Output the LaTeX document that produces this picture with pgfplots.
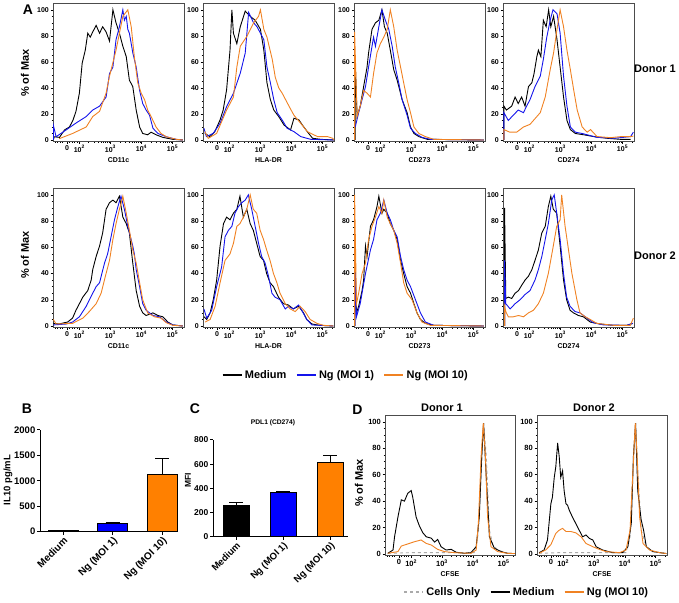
\documentclass[border=0pt]{standalone}
\usepackage{fontspec}
\setmainfont{Liberation Sans}
\usepackage{pgfplots}
\pgfplotsset{compat=1.18}
\definecolor{cblue}{RGB}{20,20,235}
\definecolor{corange}{RGB}{240,130,35}
\definecolor{bblue}{RGB}{0,0,255}
\definecolor{borange}{RGB}{255,128,0}
\definecolor{cgray}{RGB}{170,170,170}
\newcommand{\fs}[1]{\fontsize{#1pt}{#1pt}\selectfont\bfseries}
\pgfplotsset{
  flow/.style={
    scale only axis, width=131pt, height=138pt, anchor=south west,
    xmin=1.15, xmax=5.37, ymin=-1, ymax=105,
    xtick={1.6,2,3,4,5},
    xticklabels={0,10\textsuperscript{2},10\textsuperscript{3},10\textsuperscript{4},10\textsuperscript{5}},
    minor xtick={1.22,1.30,1.38,1.46,1.68,1.76,1.84,1.92,2.301,2.477,2.602,2.699,2.778,2.845,2.903,2.954,3.301,3.477,3.602,3.699,3.778,3.845,3.903,3.954,4.301,4.477,4.602,4.699,4.778,4.845,4.903,4.954,5.301},
    ytick={0,20,40,60,80,100}, minor y tick num=3,
    tick pos=left, tick align=outside,
    major tick length=2.5pt, minor tick length=1.4pt,
    tick label style={font=\fs{7}},
    xticklabel style={inner sep=1.5pt},
    yticklabel style={inner sep=1.5pt},
    /pgf/number format/assume math mode=true,
    axis line style={gray!60!black, line width=0.6pt},
    every tick/.style={black, line width=0.5pt},
    every axis x label/.style={at={(axis description cs:0.5,0)}, anchor=center, yshift=-18.5pt, font=\fs{7}},
    every axis plot/.append style={line width=0.9pt, mark=none},
  },
  bars/.style={
    scale only axis, anchor=south west,
    axis x line*=bottom, axis y line*=left,
    axis line style={-, line width=1pt},
    ybar, bar shift=0pt, ymin=0,
    xtick={0,1,2}, xticklabels={Medium,Ng (MOI 1),Ng (MOI 10)},
    xticklabel style={rotate=45, anchor=north east, inner sep=1pt},
    yticklabel style={inner sep=1.5pt},
    tick align=outside, major tick length=3pt,
    every tick/.style={black, line width=1pt},
    /pgf/number format/1000 sep={}, /pgf/number format/assume math mode=true,
    every axis plot/.append style={draw=black, line width=1pt},
  },
  eb/.style={error bars/.cd, y dir=plus, y explicit,
      error bar style={line width=1pt, black},
      error mark options={rotate=90, mark size=7pt, line width=1pt, black}},
}
\begin{document}
\begin{tikzpicture}
\path[use as bounding box] (0,0) rectangle (679pt,602pt);

% ---------------- Panel A, row 1 (Donor 1)
\begin{axis}[flow, at={(53pt,460.7pt)}, xlabel={CD11c}]
\addplot[black] coordinates {(1.16,0)(1.19,2.5)(1.36,2)(1.52,7.7)(1.68,10)(1.79,15)(1.89,22)(2.0,36)(2.09,59)(2.19,69)(2.27,82)(2.35,79)(2.43,83)(2.54,88)(2.65,82)(2.75,87)(2.86,83)(2.97,76)(3.08,100)(3.18,90)(3.29,82)(3.40,72)(3.51,64)(3.61,46)(3.72,41)(3.83,23)(3.94,10)(4.04,5)(4.20,4)(4.31,6)(4.47,4)(4.69,2)(5.01,0.5)(5.33,0)};
\addplot[cblue] coordinates {(1.16,0)(1.16,11.5)(1.25,2.5)(1.57,7.7)(1.89,13)(2.22,18)(2.43,23)(2.65,26)(2.86,33)(2.97,51)(3.08,56)(3.18,77)(3.29,87)(3.40,100)(3.45,92)(3.51,95)(3.56,85)(3.61,82)(3.67,74)(3.72,67)(3.83,56)(3.94,38)(4.04,28)(4.15,23)(4.26,19)(4.37,9)(4.53,5)(4.80,2.5)(5.12,0.5)(5.33,0)};
\addplot[corange] coordinates {(1.35,1)(1.78,5)(2.22,10)(2.43,18)(2.65,22)(2.86,36)(2.97,49)(3.18,69)(3.29,82)(3.40,95)(3.56,100)(3.67,87)(3.77,64)(3.88,44)(3.99,36)(4.10,31)(4.20,23)(4.31,18)(4.47,10)(4.63,5)(4.80,2.5)(5.12,0.5)(5.33,0)};
\end{axis}

\begin{axis}[flow, at={(203pt,460.7pt)}, xlabel={HLA-DR}]
\addplot[black] coordinates {(1.21,5.1)(1.37,2.6)(1.53,6.4)(1.70,15.4)(1.80,23)(1.91,38.5)(2.02,69)(2.08,100)(2.13,82)(2.24,74)(2.35,87)(2.51,99)(2.67,95)(2.83,92)(3.0,85)(3.11,69)(3.21,44)(3.32,31)(3.43,23)(3.59,18)(3.76,11.5)(3.97,7.7)(4.08,16.7)(4.24,15.4)(4.35,11.5)(4.51,6.4)(4.68,1.3)(4.95,0.5)(5.37,0)};
\addplot[cblue] coordinates {(1.18,9)(1.26,2.6)(1.48,5.1)(1.70,12.8)(1.91,25.6)(2.13,35.9)(2.35,51.3)(2.51,66.7)(2.62,98)(2.78,90)(2.89,87)(3.0,82)(3.11,77)(3.21,56)(3.32,44)(3.43,31)(3.54,21)(3.70,15.4)(3.86,9)(4.08,6.4)(4.30,2.6)(4.62,0.5)(5.37,0)};
\addplot[corange] coordinates {(1.21,6.4)(1.32,1.3)(1.59,5.1)(1.91,23)(2.13,33)(2.24,56)(2.35,72)(2.56,79.5)(2.78,90)(2.94,95)(3.0,100)(3.11,85)(3.21,79)(3.38,62)(3.48,48)(3.59,40)(3.70,36)(3.81,31)(3.92,26)(4.08,19)(4.30,12.8)(4.51,6.4)(4.84,2.6)(5.16,2.6)(5.33,1.3)(5.37,0)};
\end{axis}

\begin{axis}[flow, at={(354pt,460.7pt)}, xlabel={CD273}]
\addplot[black] coordinates {(1.19,0)(1.19,59)(1.25,18)(1.35,26)(1.46,41)(1.57,56)(1.62,67)(1.73,85)(1.84,90)(1.95,92)(2.05,100)(2.13,87)(2.22,82)(2.32,69)(2.43,54)(2.54,46)(2.70,31)(2.86,21)(2.97,10)(3.08,5)(3.24,2.6)(3.51,0.5)(5.33,0)};
\addplot[cblue] coordinates {(1.19,10)(1.30,21)(1.41,31)(1.52,41)(1.62,56)(1.73,72)(1.78,79)(1.84,72)(1.95,87)(2.05,100)(2.16,92)(2.27,85)(2.38,72)(2.48,56)(2.59,44)(2.70,31)(2.86,19)(2.97,9)(3.13,5)(3.34,2)(3.61,0.5)(5.33,0)};
\addplot[corange] coordinates {(1.17,0)(1.17,83)(1.25,18)(1.35,26)(1.46,38)(1.57,36)(1.68,33)(1.78,51)(1.89,67)(2.0,74)(2.11,79)(2.22,85)(2.32,100)(2.43,87)(2.54,69)(2.65,56)(2.75,44)(2.86,31)(2.97,21)(3.08,10)(3.24,5)(3.45,2.6)(3.72,0.5)(5.33,0)};
\end{axis}

\begin{axis}[flow, at={(503pt,460.7pt)}, xlabel={CD274}]
\addplot[black] coordinates {(1.18,0)(1.18,26)(1.26,23)(1.43,26)(1.54,33)(1.64,28)(1.75,33)(1.86,26)(1.97,41)(2.08,44)(2.15,51)(2.24,64)(2.29,69)(2.37,64)(2.45,92)(2.54,87)(2.62,100)(2.69,87)(2.78,95)(2.89,77)(2.99,56)(3.10,33)(3.21,15)(3.32,8)(3.48,5)(3.75,4)(4.08,2.6)(4.51,1.3)(4.94,0.5)(5.26,0.5)};
\addplot[cblue] coordinates {(1.18,0)(1.18,21)(1.32,15)(1.48,19)(1.64,23)(1.81,21)(1.91,26)(2.02,31)(2.18,41)(2.35,49)(2.45,62)(2.56,79)(2.67,92)(2.76,100)(2.89,97)(2.99,82)(3.10,49)(3.21,26)(3.32,10)(3.48,6)(3.70,5)(3.86,4)(4.18,2)(4.72,1.3)(5.26,2.6)(5.35,6)};
\addplot[corange] coordinates {(1.18,0)(1.18,8)(1.37,6)(1.59,6)(1.81,10)(2.02,12)(2.24,18)(2.35,21)(2.51,33)(2.67,54)(2.78,67)(2.89,85)(2.99,100)(3.10,87)(3.21,69)(3.32,54)(3.43,38)(3.54,23)(3.70,10)(3.86,6)(3.97,8)(4.18,2.6)(4.62,1.8)(4.94,2.6)(5.26,2.6)(5.35,3)};
\end{axis}

% ---------------- Panel A, row 2 (Donor 2)
\begin{axis}[flow, at={(53pt,274.7pt)}, height=139pt, xlabel={CD11c}]
\addplot[black] coordinates {(1.16,2)(1.35,1.5)(1.52,2.5)(1.62,3)(1.78,6)(1.89,12)(2.0,17)(2.11,22)(2.27,27)(2.38,35)(2.43,43)(2.54,53)(2.65,61)(2.75,71)(2.86,89)(2.97,94)(3.08,96)(3.18,94)(3.29,99)(3.40,83)(3.51,78)(3.61,71)(3.72,48)(3.83,27)(3.94,15)(4.04,10)(4.15,8)(4.37,10)(4.53,8)(4.69,7)(4.85,3)(5.01,0.8)(5.33,0)};
\addplot[cblue] coordinates {(1.16,0.8)(1.57,1.5)(1.78,3)(2.0,7)(2.22,15)(2.43,25)(2.54,30)(2.65,33)(2.81,48)(2.91,55)(3.02,68)(3.13,81)(3.24,91)(3.34,99)(3.45,89)(3.56,76)(3.72,61)(3.77,55)(3.83,43)(3.94,30)(4.04,17)(4.15,12)(4.37,8)(4.58,7)(4.80,3)(5.01,0.8)(5.33,0)};
\addplot[corange] coordinates {(1.16,5)(1.25,1.5)(1.78,2)(2.11,6)(2.32,11)(2.54,17)(2.70,25)(2.86,40)(2.97,50)(3.08,66)(3.18,78)(3.29,89)(3.40,99)(3.51,86)(3.61,73)(3.72,58)(3.83,48)(3.94,33)(4.04,20)(4.20,10)(4.42,7)(4.63,6)(4.80,2.5)(5.01,0.5)(5.33,0)};
\end{axis}

\begin{axis}[flow, at={(203pt,274.7pt)}, height=139pt, xlabel={HLA-DR},
  legend columns=3, legend cell align=left,
  legend style={at={(1.088,-0.343)}, anchor=center, draw=none, fill=none, font=\fs{11},
    /tikz/every even column/.append style={column sep=7pt}},
  legend image code/.code={\draw[#1, line width=2.6pt] (0pt,0pt) -- (19pt,0pt);}]
\addplot[black] coordinates {(1.18,7)(1.27,5)(1.38,10)(1.48,20)(1.59,35)(1.70,61)(1.81,78)(1.91,83)(2.02,81)(2.13,86)(2.24,89)(2.34,99)(2.45,83)(2.56,89)(2.67,78)(2.77,73)(2.88,63)(2.99,53)(3.10,50)(3.20,40)(3.31,33)(3.42,30)(3.58,22)(3.74,17)(3.90,16)(4.06,13)(4.23,15)(4.39,10)(4.49,5)(4.66,1.5)(4.92,0.5)(5.35,0)};
\addlegendentry{Medium}
\addplot[cblue] coordinates {(1.18,13)(1.27,6)(1.43,12)(1.59,30)(1.75,45)(1.86,68)(1.97,73)(2.08,76)(2.18,86)(2.29,91)(2.40,94)(2.51,96)(2.61,100)(2.72,89)(2.83,76)(2.94,63)(3.04,53)(3.15,48)(3.26,38)(3.37,25)(3.47,22)(3.63,20)(3.80,13)(3.90,15)(4.06,13)(4.23,16)(4.33,12)(4.49,5)(4.66,0.8)(5.35,0)};
\addlegendentry{Ng (MOI 1)}
\addplot[corange] coordinates {(1.22,3)(1.38,5)(1.54,15)(1.70,33)(1.86,50)(2.02,55)(2.13,63)(2.24,76)(2.34,78)(2.45,83)(2.56,89)(2.67,100)(2.77,89)(2.88,86)(2.99,73)(3.10,66)(3.20,58)(3.31,50)(3.42,40)(3.53,33)(3.63,25)(3.80,17)(3.96,13)(4.12,11)(4.28,15)(4.44,11)(4.60,5)(4.82,2)(5.03,0.5)(5.35,0)};
\addlegendentry{Ng (MOI 10)}
\end{axis}

\begin{axis}[flow, at={(354pt,274.7pt)}, height=139pt, xlabel={CD273}]
\addplot[black] coordinates {(1.18,0)(1.18,50)(1.23,10)(1.30,15)(1.41,27)(1.46,35)(1.52,61)(1.57,53)(1.68,76)(1.78,81)(1.89,91)(1.95,99)(2.05,86)(2.11,89)(2.22,86)(2.32,78)(2.43,73)(2.54,66)(2.65,50)(2.75,40)(2.86,30)(2.97,25)(3.08,17)(3.18,10)(3.29,5)(3.45,2)(3.72,0.5)(5.33,0)};
\addplot[cblue] coordinates {(1.18,0)(1.18,50)(1.23,7)(1.35,17)(1.52,40)(1.68,58)(1.78,66)(1.89,81)(2.0,86)(2.11,96)(2.22,86)(2.32,81)(2.43,73)(2.54,68)(2.65,53)(2.75,43)(2.86,35)(2.97,30)(3.13,20)(3.29,10)(3.45,3)(3.72,0.5)(5.33,0)};
\addplot[corange] coordinates {(1.17,0)(1.17,100)(1.23,17)(1.30,25)(1.41,40)(1.52,48)(1.62,66)(1.73,76)(1.84,83)(1.95,91)(2.05,86)(2.11,96)(2.22,83)(2.32,78)(2.43,73)(2.54,63)(2.65,48)(2.75,33)(2.86,25)(3.02,20)(3.18,10)(3.34,3)(3.61,0.5)(5.33,0)};
\end{axis}

\begin{axis}[flow, at={(503pt,274.7pt)}, height=139pt, xlabel={CD274}]
\addplot[black] coordinates {(1.20,0)(1.20,90)(1.24,21)(1.32,22)(1.43,21)(1.54,25)(1.65,27)(1.75,31)(1.86,35)(1.97,38)(2.08,43)(2.18,50)(2.29,58)(2.40,71)(2.51,76)(2.61,91)(2.69,99)(2.77,89)(2.88,86)(2.99,61)(3.10,35)(3.20,20)(3.31,12)(3.42,10)(3.58,8)(3.74,7)(3.96,3)(4.28,1.5)(4.71,0.5)(5.14,0.5)(5.33,2)};
\addplot[cblue] coordinates {(1.20,0)(1.20,50)(1.24,17)(1.38,13)(1.54,17)(1.70,20)(1.86,24)(2.02,27)(2.18,35)(2.29,43)(2.40,53)(2.51,66)(2.61,78)(2.72,96)(2.80,100)(2.88,86)(2.99,66)(3.10,40)(3.20,22)(3.31,15)(3.47,11)(3.63,10)(3.80,7)(4.06,2.5)(4.39,0.8)(5.14,0.5)(5.33,2)};
\addplot[corange] coordinates {(1.20,0)(1.20,15)(1.24,11)(1.32,7)(1.48,7)(1.65,8)(1.81,7)(1.97,10)(2.13,12)(2.29,17)(2.45,25)(2.61,40)(2.77,61)(2.88,76)(2.99,81)(3.04,100)(3.15,76)(3.26,58)(3.37,40)(3.53,20)(3.63,10)(3.80,7)(3.96,5)(4.17,2)(4.71,0.5)(5.25,0.5)(5.35,6)};
\end{axis}

% ---------------- Panel B
\begin{axis}[bars, at={(40pt,70.3pt)}, width=138pt, height=101.7pt,
  xmin=-0.465, xmax=2.32, ymax=2000, ytick={0,500,1000,1500,2000},
  bar width=30pt, yticklabel style={font=\fs{9.5}}, xticklabel style={font=\fs{10}}]
\addplot[fill=black, eb] coordinates {(0,15) +- (0,4)};
\addplot[fill=bblue, eb] coordinates {(1,155) +- (0,20)};
\addplot[fill=borange, eb] coordinates {(2,1128) +- (0,315)};
\end{axis}

% ---------------- Panel C
\begin{axis}[bars, at={(213pt,65.3pt)}, width=135pt, height=96.7pt,
  xmin=-0.49, xmax=2.38, ymax=800, ytick={0,200,400,600,800},
  bar width=26pt, yticklabel style={font=\fs{8.5}}, xticklabel style={font=\fs{9.5}}]
\addplot[fill=black, eb] coordinates {(0,262) +- (0,20)};
\addplot[fill=bblue, eb] coordinates {(1,362) +- (0,12)};
\addplot[fill=borange, eb] coordinates {(2,613) +- (0,55)};
\end{axis}

% ---------------- Panel D
\begin{axis}[flow, at={(385pt,46.7pt)}, width=130pt, height=140pt, xlabel={CFSE},
  tick label style={font=\fs{7.5}},
  legend columns=3, legend cell align=left,
  legend style={at={(1.088,-0.262)}, anchor=center, draw=none, fill=none, font=\fs{11},
    /tikz/every even column/.append style={column sep=7pt}},
  legend image code/.code={\draw[#1, line width=2.6pt] (0pt,0pt) -- (19pt,0pt);}]
\addplot[cgray, dashed] coordinates {(1.24,0.5)(2.0,1)(3.08,1)(4.05,1)(4.18,15.6)(4.27,61)(4.35,99)(4.44,74)(4.54,18)(4.65,6.8)(4.81,3)(5.13,0.5)(5.40,0.3)};
\addlegendentry{Cells Only}
\addplot[black] coordinates {(1.24,0.5)(1.41,3)(1.46,13)(1.57,28)(1.68,41)(1.78,40)(1.89,46)(2.0,48)(2.05,43)(2.16,28)(2.27,21)(2.38,16)(2.49,13)(2.65,12)(2.76,9)(2.86,11)(2.97,5.5)(3.13,3)(3.30,3.5)(3.46,1.3)(3.73,0.5)(3.94,1)(4.11,5.5)(4.21,28)(4.29,74)(4.35,99)(4.43,61)(4.54,13)(4.70,4.3)(4.92,1.8)(5.13,0.5)(5.40,0.3)};
\addlegendentry{Medium}
\addplot[corange] coordinates {(1.24,0.5)(1.57,1.8)(1.68,6)(1.89,7.6)(2.11,9.3)(2.32,10.6)(2.49,8)(2.65,6.8)(2.86,3.5)(3.08,1.8)(3.40,1)(3.94,0.5)(4.11,3)(4.18,23)(4.27,74)(4.34,99)(4.41,74)(4.48,28)(4.59,5.5)(4.81,1.8)(5.13,0.5)(5.40,0.3)};
\addlegendentry{Ng (MOI 10)}
\end{axis}

\begin{axis}[flow, at={(537pt,46.7pt)}, width=130pt, height=140pt, xlabel={CFSE},
  tick label style={font=\fs{7.5}}]
\addplot[cgray, dashed] coordinates {(1.22,0.5)(1.87,1)(2.96,1)(4.04,1)(4.17,13)(4.26,61)(4.35,99)(4.43,61)(4.53,18)(4.70,5.5)(4.91,1.8)(5.35,0.3)};
\addplot[black] coordinates {(1.22,1)(1.38,3)(1.49,10.6)(1.54,23)(1.60,38)(1.65,43)(1.71,58)(1.76,66)(1.82,84)(1.87,74)(1.92,58)(1.98,63)(2.03,48)(2.09,38)(2.14,37)(2.20,33)(2.30,28)(2.41,23)(2.52,18)(2.63,13)(2.74,14.4)(2.85,11.8)(2.96,10.6)(3.07,5.5)(3.28,3)(3.61,1)(3.93,1)(4.10,5.5)(4.21,23)(4.28,74)(4.35,99)(4.42,48)(4.53,26)(4.61,18)(4.70,5.5)(4.91,1.8)(5.35,0.3)};
\addplot[corange] coordinates {(1.22,0.5)(1.43,3)(1.60,7)(1.76,15.6)(1.87,18)(1.98,19.4)(2.09,17)(2.25,17)(2.41,16)(2.58,13)(2.74,8)(2.96,5.5)(3.17,3.5)(3.39,1.8)(3.83,1)(4.04,3)(4.17,18)(4.26,61)(4.34,99)(4.40,74)(4.48,28)(4.59,8)(4.80,3)(5.13,1)(5.35,0.3)};
\end{axis}

% ---------------- Text
\node[font=\fs{14}] at (28pt,592pt) {A};
\node[font=\fs{14}] at (27pt,193pt) {B};
\node[font=\fs{14}] at (195pt,193pt) {C};
\node[font=\fs{14}] at (357.5pt,192pt) {D};
\node[font=\fs{11}, rotate=90] at (25pt,529pt) {\% of Max};
\node[font=\fs{11}, rotate=90] at (25pt,347pt) {\% of Max};
\node[font=\fs{11}, rotate=90] at (359pt,119pt) {\% of Max};
\node[font=\fs{11}, anchor=west, inner sep=0pt] at (634pt,533pt) {Donor 1};
\node[font=\fs{11}, anchor=west, inner sep=0pt] at (634pt,346pt) {Donor 2};
\node[font=\fs{11}] at (442pt,194pt) {Donor 1};
\node[font=\fs{11}] at (594pt,194pt) {Donor 2};
\node[font=\fs{6.7}] at (273pt,179pt) {PDL1 (CD274)};
\node[font=\fs{9.5}, rotate=90] at (8pt,122pt) {IL10 pg/mL};
\node[font=\fs{8.5}, rotate=90] at (188pt,122pt) {MFI};
\end{tikzpicture}
\end{document}
